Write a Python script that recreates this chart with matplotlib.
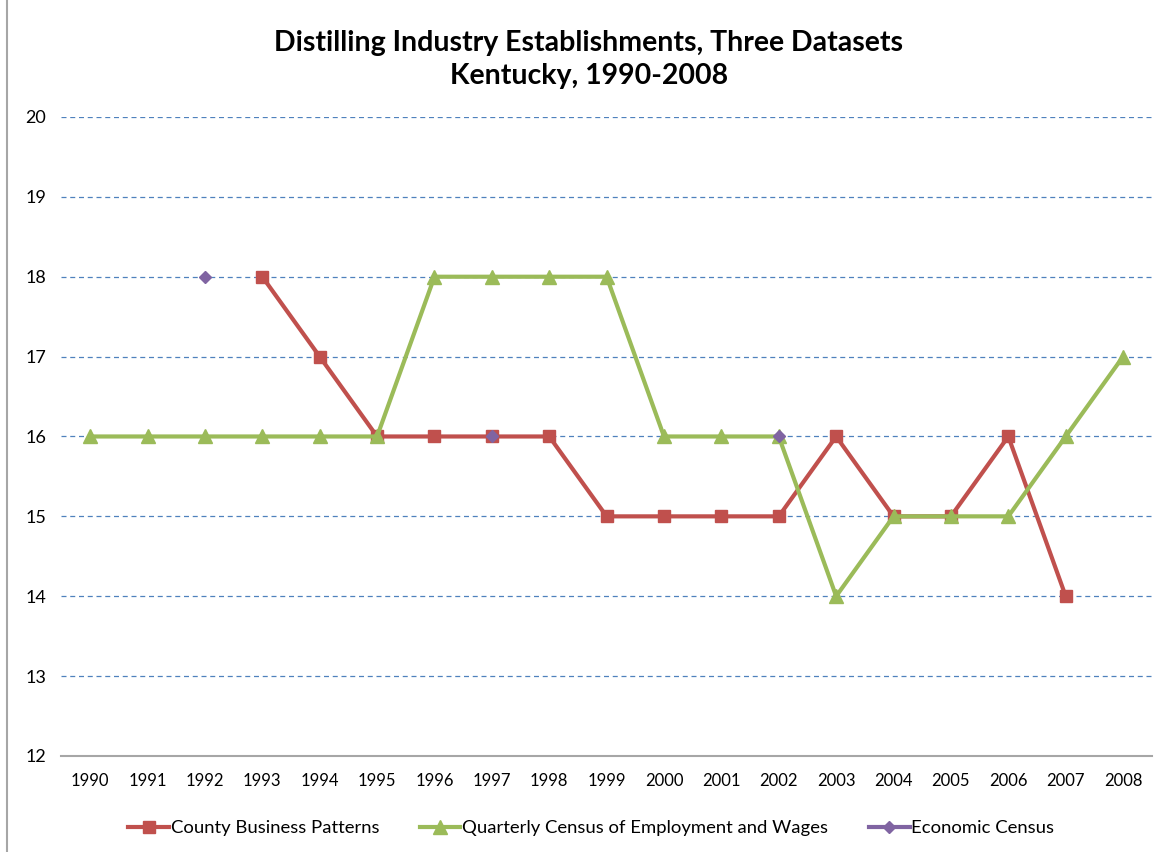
import numpy as np
import matplotlib
matplotlib.use("Agg")
import matplotlib.pyplot as plt
from matplotlib.lines import Line2D

years = list(range(1990, 2009))
nan = np.nan
cbp = [nan, nan, nan, 18, 17, 16, 16, 16, 16, 15, 15, 15, 15, 16, 15, 15, 16, 14, nan]
qcew = [16, 16, 16, 16, 16, 16, 18, 18, 18, 18, 16, 16, 16, 14, 15, 15, 15, 16, 17]
econ = [nan, nan, 18, nan, nan, nan, nan, 16, nan, nan, nan, nan, 16, nan, nan, nan, nan, nan, nan]

series_names = ["County Business Patterns",
                "Quarterly Census of Employment and Wages",
                "Economic Census"]

plt.rcParams["font.family"] = ["Lato", "DejaVu Sans"]

fig = plt.figure(figsize=(11.64, 8.52), dpi=100)
ax = fig.add_axes([0.0528, 0.1127, 0.9367, 0.75])

x = np.arange(len(years))
ax.plot(x, cbp, color="#C0504D", lw=3, marker="s", ms=9, zorder=3)
ax.plot(x, qcew, color="#9BBB59", lw=3, marker="^", ms=10, zorder=4)
ax.plot(x, econ, color="#8064A2", lw=3, marker="D", ms=6, ls="none", zorder=5)

ax.set_xlim(-0.5, len(years) - 0.5)
ax.set_ylim(12, 20)
ax.set_xticks(x)
ax.set_xticklabels([str(y) for y in years], fontsize=12)
ax.set_yticks(range(12, 21))
ax.tick_params(axis="both", length=0, colors="black")
ax.tick_params(axis="x", pad=12)
ax.tick_params(axis="y", pad=11)
for lab in ax.get_yticklabels():
    lab.set_fontsize(13)

ax.grid(axis="y", color="#4F81BD", ls=(0, (4, 3)), lw=0.9)
ax.set_axisbelow(True)
for s in ["left", "right", "top"]:
    ax.spines[s].set_visible(False)
ax.spines["bottom"].set_color("#A6A6A6")
ax.spines["bottom"].set_linewidth(1.5)
ax.spines["bottom"].set_zorder(1)

fig.text(0.506, 0.930, "Distilling Industry Establishments, Three Datasets\nKentucky, 1990-2008",
         ha="center", va="center", fontsize=20.5, fontweight="bold", linespacing=1.35)

handles = [
    Line2D([], [], color="#C0504D", lw=3, marker="s", ms=9),
    Line2D([], [], color="#9BBB59", lw=3, marker="^", ms=10),
    Line2D([], [], color="#8064A2", lw=3, marker="D", ms=6),
]
fig.legend(handles, series_names, loc="center", bbox_to_anchor=(0.508, 0.028),
           ncol=3, frameon=False, fontsize=13.3, handlelength=2.2,
           handletextpad=0.1, columnspacing=2.2)

fig.add_artist(Line2D([0.006, 0.006], [0, 1], color="#A6A6A6", lw=1.5,
                      transform=fig.transFigure))

fig.savefig("out.png", dpi=100)
